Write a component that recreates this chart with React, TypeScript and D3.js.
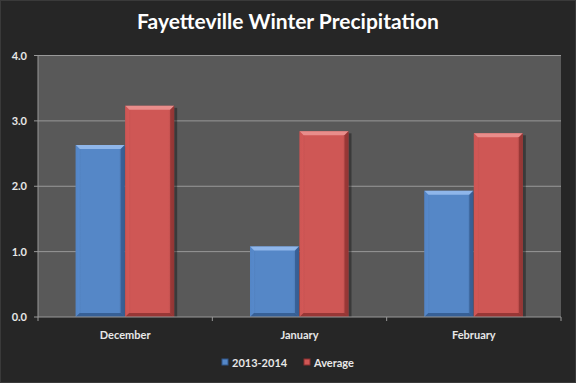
import React from "react";
import * as d3 from "d3";

const categories = ["December", "January", "February"];
const seriesNames = ["2013-2014", "Average"];
const values2013 = [2.63, 1.08, 1.93];
const valuesAverage = [3.23, 2.84, 2.81];
const yTicks = [0, 1, 2, 3, 4];

const W = 576, H = 383;
const M = { left: 38, right: 561, top: 55.5, bottom: 317 };
const colors = ["#5587c7", "#cf5755"];
const light = ["#8fb6ea", "#e98d8b"];
const dark = ["#30568a", "#8a2f2e"];

export default function App() {
  const x0 = d3.scaleBand().domain(categories).range([M.left, M.right]).paddingInner(0).paddingOuter(0);
  const bw = 49;
  const x1 = d3.scaleBand().domain(seriesNames).range([0, bw * 2 + 1]).padding(0);
  const y = d3.scaleLinear().domain([0, 4]).range([M.bottom, M.top]);
  const allVals = [values2013, valuesAverage];
  const font = "Lato, 'Open Sans', sans-serif";
  const bev = 4;

  return (
    <div style={{ position: "absolute", left: 0, top: 0 }}>
      <svg width={W} height={H} style={{ display: "block" }}>
        <defs>
          {colors.map((c, i) => (
            <linearGradient key={i} id={`g${i}`} x1="0" x2="1" y1="0" y2="0">
              <stop offset="0" stopColor={d3.color(c)!.darker(0.3).toString()} />
              <stop offset="0.12" stopColor={c} />
              <stop offset="0.88" stopColor={c} />
              <stop offset="1" stopColor={d3.color(c)!.darker(0.6).toString()} />
            </linearGradient>
          ))}
        </defs>
        <rect width={W} height={H} fill="#262626" />
        <rect x={0.5} y={0.5} width={W - 1} height={H - 1} fill="none" stroke="#3a3a3a" />
        <text x={W / 2} y={29} textAnchor="middle" fill="#ffffff" fontFamily={font} fontWeight="bold" fontSize={21}>
          Fayetteville Winter Precipitation
        </text>
        <rect x={M.left} y={M.top} width={M.right - M.left} height={M.bottom - M.top} fill="#595959" />
        {yTicks.map((t) => (
          <g key={t}>
            {t > 0 && <line x1={M.left} x2={M.right} y1={y(t)} y2={y(t)} stroke="#999" strokeWidth={1} />}
            <line x1={M.left - 4} x2={M.left} y1={y(t)} y2={y(t)} stroke="#999" />
            <text x={27} y={y(t) + 4} textAnchor="end" fill="#e8e8e8" fontFamily={font} fontWeight="bold" fontSize={11}>
              {t.toFixed(1)}
            </text>
          </g>
        ))}
        <line x1={M.left} x2={M.left} y1={M.top} y2={M.bottom} stroke="#999" />
        {categories.map((c, ci) =>
          allVals.map((vals, si) => {
            const bx = (x0(c)! + (x0.bandwidth() - (bw * 2 + 1)) / 2) + x1(seriesNames[si])!;
            const by = y(vals[ci]);
            const bh = M.bottom - by;
            const r = bx + bw;
            return (
              <g key={`${ci}-${si}`}>
                <rect x={r} y={by + 2} width={3} height={bh - 2} fill="#000" opacity={0.35} />
                <rect x={bx} y={by} width={bw} height={bh} fill={`url(#g${si})`} />
                <polygon points={`${bx},${by} ${r},${by} ${r - bev},${by + bev} ${bx + bev},${by + bev}`} fill={light[si]} />
                <polygon points={`${bx},${by} ${bx + bev},${by + bev} ${bx + bev},${M.bottom - bev} ${bx},${M.bottom}`} fill={d3.color(colors[si])!.brighter(0.15).toString()} opacity={0.6} />
                <polygon points={`${r},${by} ${r},${M.bottom} ${r - bev},${M.bottom - bev} ${r - bev},${by + bev}`} fill={dark[si]} opacity={0.7} />
                <polygon points={`${bx},${M.bottom} ${r},${M.bottom} ${r - bev},${M.bottom - bev} ${bx + bev},${M.bottom - bev}`} fill={dark[si]} opacity={0.8} />
              </g>
            );
          })
        )}
        <line x1={M.left} x2={M.right} y1={M.bottom} y2={M.bottom} stroke="#999" />
        {[...categories.map((c) => x0(c)!), M.right].map((xv, i) => (
          <line key={i} x1={xv} x2={xv} y1={M.bottom} y2={M.bottom + 4} stroke="#999" />
        ))}
        {categories.map((c) => (
          <text key={c} x={x0(c)! + x0.bandwidth() / 2} y={339} textAnchor="middle" fill="#e8e8e8" fontFamily={font} fontWeight="bold" fontSize={11}>
            {c}
          </text>
        ))}
        {seriesNames.map((s, i) => {
          const lx = [222, 304][i];
          return (
            <g key={s}>
              <rect x={lx} y={359} width={6} height={6} fill={colors[i]} stroke={dark[i]} strokeWidth={1} />
              <text x={lx + 10} y={367} fill="#e8e8e8" fontFamily={font} fontWeight="bold" fontSize={11}>
                {s}
              </text>
            </g>
          );
        })}
      </svg>
    </div>
  );
}
